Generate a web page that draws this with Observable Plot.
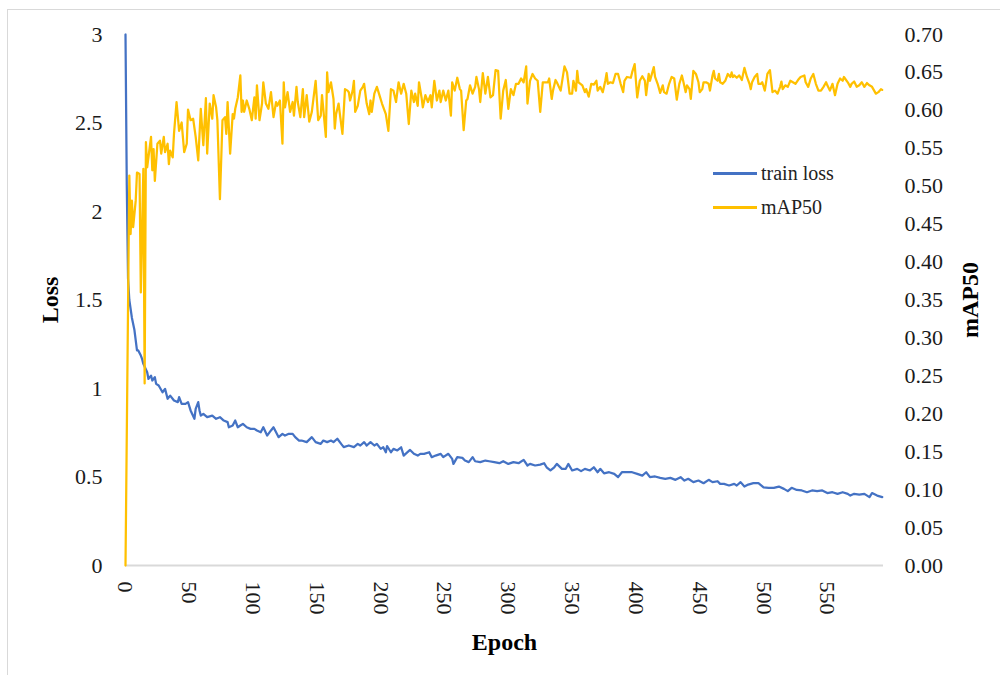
<!DOCTYPE html>
<html>
<head>
<meta charset="utf-8">
<script src="https://cdn.jsdelivr.net/npm/d3@7"></script>
<script src="https://cdn.jsdelivr.net/npm/@observablehq/plot@0.6"></script>
<style>
  html, body { margin: 0; padding: 0; background: #fff; }
  #wrap { position: relative; width: 1000px; height: 675px; overflow: hidden;
          font-family: "Liberation Serif", "Times New Roman", serif; }
  #frame { position: absolute; left: 7px; top: 9px; width: 1000px; height: 680px;
           border: 1px solid #d9d9d9; box-sizing: border-box; pointer-events: none; }
  #legend { position: absolute; left: 713px; top: 156px; font-size: 20px; color: #222; }
  #legend .row { display: flex; align-items: center; height: 34px; }
  #legend .swatch { width: 44px; height: 3px; margin-right: 4px; }
</style>
</head>
<body>
<div id="wrap">
  <div id="chart"></div>
  <div id="frame"></div>
  <div id="legend"></div>
</div>
<script>
// ---- data ----
const seriesNames = ["train loss", "mAP50"];
const seriesColors = ["#4472C4", "#FFC000"];

const lossEpoch = [0,1,2,3,5,7,9,10,12,13,14,17,18,20,21,23,24,26,29,31,33,35,38,41,42,44,47,49,51,54,55,57,58,59,61,64,68,71,74,77,80,81,84,86,88,90,92,95,98,101,103,106,108,111,114,116,118,120,123,125,128,131,133,136,138,142,146,149,153,155,158,161,163,166,169,171,175,179,182,184,187,189,192,195,197,200,202,204,205,208,210,213,216,218,221,223,226,229,231,234,238,240,243,247,249,253,256,257,260,264,266,269,272,274,278,282,285,289,293,296,300,304,308,312,315,317,321,325,328,330,333,336,338,342,345,347,350,354,357,360,364,367,370,372,375,379,383,386,389,393,397,401,405,408,411,415,419,423,427,431,435,438,441,445,449,453,457,460,464,466,469,473,477,479,482,485,488,492,496,500,504,508,512,516,519,522,526,530,534,538,542,546,550,554,558,562,566,568,571,575,579,583,585,589,593];
const lossValue = [3.0,2.15,1.62,1.50,1.40,1.33,1.215,1.215,1.186,1.167,1.139,1.092,1.054,1.073,1.045,1.064,1.026,1.017,0.979,0.998,0.942,0.960,0.932,0.923,0.951,0.913,0.913,0.923,0.876,0.829,0.885,0.923,0.876,0.847,0.857,0.838,0.847,0.829,0.838,0.819,0.810,0.781,0.791,0.819,0.781,0.791,0.800,0.781,0.772,0.772,0.763,0.753,0.781,0.734,0.763,0.781,0.753,0.725,0.744,0.734,0.744,0.744,0.725,0.706,0.706,0.697,0.725,0.697,0.687,0.706,0.697,0.706,0.697,0.716,0.687,0.669,0.678,0.669,0.687,0.678,0.697,0.678,0.697,0.678,0.687,0.659,0.668,0.640,0.675,0.640,0.659,0.650,0.668,0.621,0.640,0.653,0.631,0.621,0.631,0.631,0.640,0.612,0.621,0.631,0.612,0.631,0.602,0.574,0.612,0.608,0.593,0.584,0.612,0.589,0.584,0.593,0.589,0.584,0.578,0.589,0.574,0.584,0.578,0.597,0.565,0.574,0.565,0.570,0.578,0.555,0.537,0.555,0.574,0.546,0.546,0.574,0.537,0.546,0.533,0.546,0.537,0.555,0.527,0.546,0.521,0.527,0.518,0.499,0.527,0.527,0.527,0.518,0.508,0.527,0.499,0.503,0.495,0.490,0.495,0.484,0.499,0.480,0.490,0.471,0.480,0.465,0.484,0.471,0.476,0.461,0.461,0.452,0.461,0.452,0.471,0.446,0.457,0.465,0.465,0.442,0.439,0.439,0.446,0.433,0.420,0.439,0.427,0.424,0.414,0.424,0.420,0.424,0.409,0.414,0.405,0.414,0.405,0.395,0.405,0.401,0.405,0.386,0.409,0.395,0.386];

const mapEpoch = [0,3,4,5,6,8,9,11,12,14,15,16,17,20,21,22,23,25,27,28,30,31,33,34,35,37,38,40,42,44,46,48,49,51,53,55,57,59,61,63,64,66,68,69,71,72,74,76,78,79,80,82,84,85,86,88,90,91,92,93,95,97,99,101,102,103,105,107,108,110,112,114,116,118,119,121,123,124,125,127,129,131,132,134,135,137,139,140,142,144,146,149,151,153,154,157,158,159,161,163,164,165,167,168,170,172,174,175,176,178,179,180,182,184,186,187,189,191,192,193,195,197,199,201,204,206,208,210,212,214,216,218,220,222,224,226,227,229,230,232,233,235,237,239,240,242,244,246,247,249,251,253,255,256,258,260,262,263,265,267,268,270,272,274,275,277,278,280,282,284,286,288,290,292,294,296,298,300,302,304,306,308,310,312,314,315,317,319,321,323,325,327,328,331,332,334,335,337,338,341,344,346,348,350,351,353,354,355,358,360,361,363,365,367,369,370,372,374,376,377,378,380,382,384,386,388,390,391,393,396,397,399,401,403,405,407,408,410,411,414,415,417,419,421,422,424,426,428,430,432,434,436,437,439,440,442,443,445,447,449,450,452,453,455,457,458,460,461,462,464,465,466,468,470,472,474,475,476,477,479,481,483,485,487,489,490,491,493,495,496,498,499,501,503,505,507,509,511,513,514,515,517,519,521,523,525,527,529,532,533,535,537,539,541,543,545,547,549,550,552,554,556,558,560,562,563,566,568,569,571,573,575,577,579,581,583,585,588,590,592,593];
const mapValue = [0.000,0.514,0.437,0.481,0.446,0.481,0.518,0.516,0.360,0.523,0.240,0.558,0.525,0.565,0.521,0.549,0.507,0.556,0.560,0.543,0.565,0.545,0.556,0.529,0.547,0.538,0.569,0.611,0.573,0.584,0.545,0.556,0.601,0.587,0.589,0.565,0.534,0.602,0.554,0.616,0.543,0.609,0.589,0.620,0.604,0.587,0.483,0.587,0.591,0.569,0.611,0.543,0.595,0.589,0.602,0.617,0.646,0.598,0.613,0.598,0.613,0.602,0.587,0.617,0.589,0.633,0.587,0.609,0.637,0.609,0.602,0.624,0.591,0.611,0.606,0.613,0.556,0.637,0.604,0.624,0.598,0.611,0.593,0.631,0.611,0.591,0.628,0.591,0.620,0.585,0.598,0.639,0.587,0.593,0.620,0.565,0.650,0.624,0.637,0.615,0.576,0.595,0.609,0.595,0.569,0.628,0.626,0.624,0.613,0.626,0.639,0.598,0.606,0.626,0.631,0.635,0.609,0.595,0.613,0.598,0.622,0.631,0.620,0.609,0.595,0.573,0.628,0.626,0.611,0.637,0.622,0.635,0.622,0.582,0.626,0.611,0.622,0.606,0.637,0.617,0.604,0.620,0.611,0.620,0.604,0.639,0.613,0.626,0.611,0.626,0.613,0.626,0.593,0.637,0.626,0.643,0.628,0.626,0.574,0.613,0.615,0.633,0.622,0.631,0.644,0.628,0.611,0.649,0.622,0.644,0.617,0.620,0.653,0.652,0.589,0.626,0.640,0.602,0.628,0.620,0.635,0.635,0.642,0.637,0.658,0.609,0.639,0.648,0.642,0.639,0.598,0.637,0.637,0.637,0.642,0.615,0.626,0.640,0.637,0.626,0.658,0.650,0.622,0.622,0.639,0.626,0.652,0.637,0.633,0.624,0.628,0.618,0.635,0.634,0.639,0.626,0.631,0.624,0.639,0.649,0.635,0.637,0.636,0.648,0.648,0.635,0.624,0.639,0.644,0.643,0.650,0.661,0.617,0.639,0.645,0.639,0.620,0.648,0.639,0.657,0.644,0.635,0.623,0.633,0.624,0.622,0.635,0.644,0.642,0.614,0.635,0.646,0.639,0.624,0.633,0.628,0.615,0.652,0.648,0.637,0.624,0.628,0.637,0.637,0.635,0.626,0.646,0.652,0.642,0.639,0.648,0.637,0.635,0.639,0.648,0.644,0.650,0.644,0.646,0.643,0.646,0.640,0.656,0.644,0.635,0.628,0.637,0.644,0.648,0.635,0.635,0.637,0.626,0.648,0.653,0.624,0.626,0.622,0.631,0.638,0.628,0.633,0.631,0.639,0.637,0.635,0.640,0.644,0.646,0.637,0.631,0.642,0.648,0.635,0.626,0.626,0.631,0.637,0.633,0.626,0.635,0.620,0.635,0.642,0.639,0.644,0.637,0.631,0.635,0.638,0.631,0.633,0.637,0.631,0.636,0.633,0.631,0.622,0.624,0.628,0.627];

const lossTicks = [0, 0.5, 1, 1.5, 2, 2.5, 3];
const mapTicks = [0, 0.05, 0.10, 0.15, 0.20, 0.25, 0.30, 0.35, 0.40, 0.45, 0.50, 0.55, 0.60, 0.65, 0.70];
const epochTicks = [0, 50, 100, 150, 200, 250, 300, 350, 400, 450, 500, 550];
const epochMax = 594;
const axisTitles = {x: "Epoch", yLeft: "Loss", yRight: "mAP50"};

// ---- build ----
const lossMax = 3, mapMax = 0.70;
const k = lossMax / mapMax; // secondary axis -> primary units
const lossData = lossEpoch.map((e, i) => ({epoch: e, value: lossValue[i]}));
const mapData = mapEpoch.map((e, i) => ({epoch: e, value: mapValue[i]}));

const chart = Plot.plot({
  width: 1000,
  height: 675,
  marginLeft: 125,
  marginRight: 117,
  marginTop: 34,
  marginBottom: 110,
  style: {fontFamily: '"Liberation Serif", "Times New Roman", serif', fontSize: "22px", color: "#1a1a1a", background: "transparent"},
  x: {domain: [0, epochMax]},
  y: {domain: [0, lossMax]},
  marks: [
    Plot.axisY(lossTicks, {anchor: "left", tickSize: 0, tickPadding: 23, tickFormat: d => String(d), label: null}),
    Plot.axisY(mapTicks.map(t => t * k), {anchor: "right", tickSize: 0, tickPadding: 21, tickFormat: d => (d / k).toFixed(2), label: null}),
    Plot.axisX(epochTicks, {anchor: "bottom", tickSize: 0, tickPadding: 16, tickRotate: 90, label: null}),
    Plot.ruleY([0], {stroke: "#d9d9d9", strokeWidth: 2}),
    Plot.line(lossData, {x: "epoch", y: "value", stroke: seriesColors[0], strokeWidth: 2.25}),
    Plot.line(mapData, {x: "epoch", y: d => d.value * k, stroke: seriesColors[1], strokeWidth: 2.25}),
    Plot.text([axisTitles.yLeft], {text: d => d, frameAnchor: "left", dx: -75, rotate: -90, textAnchor: "middle", lineAnchor: "middle", fontWeight: "bold", fontSize: 24, fill: "#000"}),
    Plot.text([axisTitles.yRight], {text: d => d, frameAnchor: "right", dx: 87, rotate: -90, textAnchor: "middle", lineAnchor: "middle", fontWeight: "bold", fontSize: 24, fill: "#000"}),
    Plot.text([axisTitles.x], {text: d => d, frameAnchor: "bottom", dy: 77, textAnchor: "middle", lineAnchor: "middle", fontWeight: "bold", fontSize: 24, fill: "#000"})
  ]
});
document.getElementById("chart").appendChild(chart);

const legend = document.getElementById("legend");
seriesNames.forEach((name, i) => {
  const row = document.createElement("div");
  row.className = "row";
  const sw = document.createElement("div");
  sw.className = "swatch";
  sw.style.background = seriesColors[i];
  const label = document.createElement("span");
  label.textContent = name;
  row.appendChild(sw);
  row.appendChild(label);
  legend.appendChild(row);
});
</script>
</body>
</html>
